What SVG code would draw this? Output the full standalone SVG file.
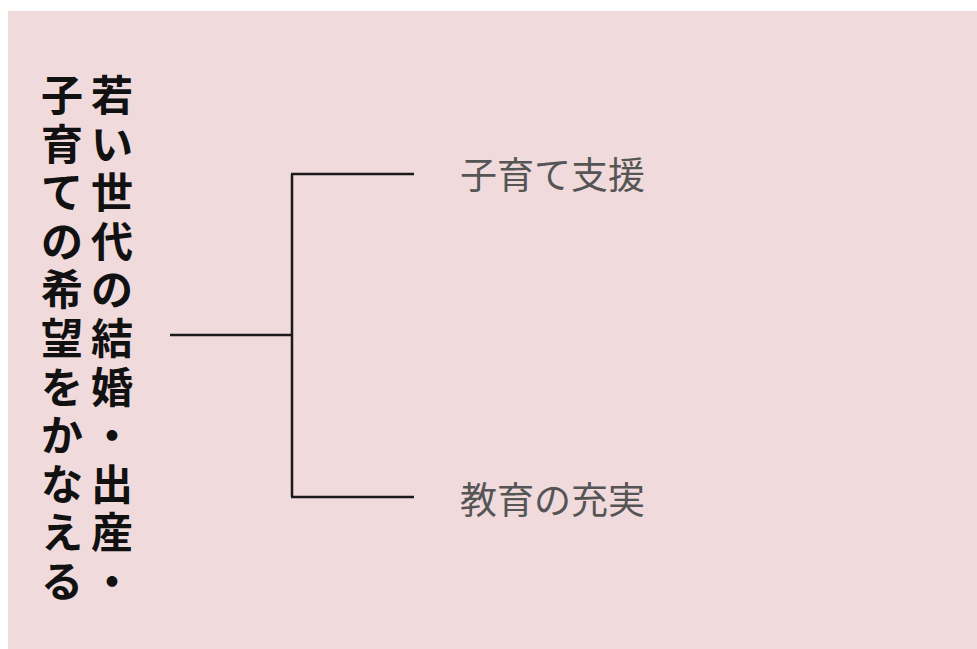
<svg xmlns="http://www.w3.org/2000/svg" width="977" height="649" viewBox="0 0 977 649">
<style>
.v{font-family:"Noto Sans CJK JP","Noto Sans CJK SC",sans-serif;font-weight:bold;font-size:42px;fill:#111;text-anchor:middle;dominant-baseline:central}
.lbl{font-family:"Noto Sans CJK JP","Noto Sans CJK SC",sans-serif;font-size:37px;fill:#555;dominant-baseline:central}
.ln{stroke:#1a1a1a;stroke-width:2.5;fill:none}
</style>
<rect x="0" y="0" width="977" height="649" fill="#ffffff"/>
<rect x="8" y="11" width="969" height="638" fill="#f0dadc"/>
<g id="root">
<text class="v"><tspan x="112" y="92">若</tspan><tspan x="112" y="140.6">い</tspan><tspan x="112" y="189.2">世</tspan><tspan x="112" y="237.8">代</tspan><tspan x="112" y="286.4">の</tspan><tspan x="112" y="335">結</tspan><tspan x="112" y="383.6">婚</tspan><tspan x="112" y="432.2">・</tspan><tspan x="112" y="480.8">出</tspan><tspan x="112" y="529.4">産</tspan><tspan x="112" y="578">・</tspan></text>
<text class="v"><tspan x="62" y="92">子</tspan><tspan x="62" y="140.6">育</tspan><tspan x="62" y="189.2">て</tspan><tspan x="62" y="237.8">の</tspan><tspan x="62" y="286.4">希</tspan><tspan x="62" y="335">望</tspan><tspan x="62" y="383.6">を</tspan><tspan x="62" y="432.2">か</tspan><tspan x="62" y="480.8">な</tspan><tspan x="62" y="529.4">え</tspan><tspan x="62" y="578">る</tspan></text>
</g>
<g id="connectors">
<path class="ln" d="M170 335 H292 M292 174 V497 M291 174 H414 M291 497 H414"/>
</g>
<g id="child1"><text class="lbl" x="460" y="173">子育て支援</text></g>
<g id="child2"><text class="lbl" x="460" y="498">教育の充実</text></g>
</svg>
